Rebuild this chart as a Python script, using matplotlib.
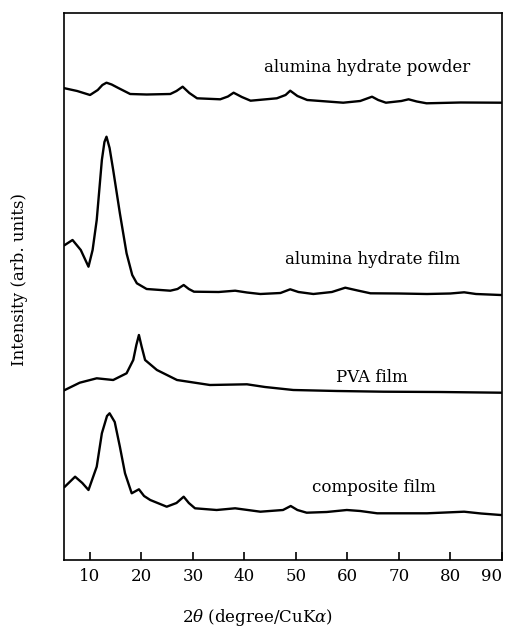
import matplotlib
matplotlib.use("Agg")
import matplotlib.pyplot as plt

plt.rcParams['font.family'] = ['DejaVu Serif']
plt.rcParams['mathtext.fontset'] = 'dejavuserif'

# 2theta (deg) and intensity (arb.) for each pattern (stacked offsets included)
powder_x = [5.1, 7.5, 10.0, 11.5, 12.4, 13.2, 14.2, 15.5, 17.8, 21, 25.6, 26.8, 28.0, 29.3, 30.8, 35.3, 36.8, 37.9, 39.5, 41.2,
            46.3, 48.0, 48.9, 50.3, 52.2, 59.2, 62.5, 64.8, 66.0, 67.5, 70.5, 71.9, 73.5, 75.4, 82, 89.8]
powder_y = [471.7, 469, 465, 470, 475, 477.3, 475.5, 472, 466, 465.5, 466, 469, 473.3, 467, 461.7, 460.7, 463.5, 467.3, 463, 459.3,
            461.7, 465, 469.3, 464, 460, 457.3, 459, 463.3, 460, 457.3, 459, 460.7, 458.5, 456.7, 457.5, 457.3]

film_x = [5.1, 6.6, 8.2, 9.7, 10.5, 11.3, 12.3, 12.8, 13.2, 13.8, 14.5, 15.8, 17.1, 18.2, 19.1, 21, 25.6, 27.0,
          28.2, 29.2, 30.2, 35, 38.2, 40.5, 43.1, 47, 48.9, 50.5, 53.4, 57, 59.6, 62, 64.5, 70, 75.5, 80, 82.7, 85, 89.8]
film_y = [315, 320, 310, 293.3, 310, 340, 400, 418, 423.3, 412, 390, 346.7, 306.7, 285, 276.7, 271, 269.3, 271,
          275, 271, 268.3, 268, 269.3, 267.5, 266, 267, 270.7, 268, 266, 268, 272.3, 269.5, 266.7, 266.5, 266, 266.5, 267.7, 266, 265]

pva_x = [5.1, 8.0, 11.3, 14.5, 17.1, 18.4, 19.0, 19.5, 20.0, 20.7, 23.0, 26.9, 33.3, 40.5, 44, 49.5, 58, 67, 78, 89.8]
pva_y = [170, 177.3, 181.7, 180, 186.7, 200, 215, 225, 214, 200, 190, 180, 175, 175.7, 173, 170, 169, 168.3, 168, 167.3]

comp_x = [5.1, 7.1, 8.5, 9.7, 11.3, 12.3, 13.3, 13.8, 14.8, 15.8, 16.8, 18.1, 19.5, 20.5, 21.7, 24.9, 26.8, 28.2,
          29.2, 30.4, 34.6, 38.2, 43.1, 47.5, 49.0, 50.3, 52.1, 56, 59.9, 62.5, 65.8, 75.5, 82.7, 86, 89.8]
comp_y = [73.3, 83.3, 77, 70, 93.3, 126.7, 144, 146.7, 138, 113.3, 86.7, 66.7, 70.7, 64, 60, 53.3, 57, 63.3,
          57, 51.7, 50, 51.7, 48.3, 50, 54, 50, 47.3, 48, 50, 49, 46.7, 46.7, 48.3, 46.5, 45]

labels = ["alumina hydrate powder", "alumina hydrate film", "PVA film", "composite film"]
label_x = [63.9, 65.0, 64.8, 65.2]
label_y = [492, 300, 183, 72]

xticks = [10, 20, 30, 40, 50, 60, 70, 80, 90]

fig = plt.figure(figsize=(5.1, 6.3), dpi=100)
ax = fig.add_axes([64.3 / 510, 1 - 560 / 630, (501.7 - 64.3) / 510, (560 - 13) / 630])

for xs, ys in [(powder_x, powder_y), (film_x, film_y), (pva_x, pva_y), (comp_x, comp_y)]:
    ax.plot(xs, ys, color='black', lw=1.7, solid_joinstyle='round')

for t, lx, ly in zip(labels, label_x, label_y):
    ax.text(lx, ly, t, ha='center', va='center', fontsize=12)

ax.set_xlim(5, 90)
ax.set_ylim(0, 547)
ax.set_xticks(xticks)
ax.set_xticklabels([str(v) for v in xticks], fontsize=12)
ax.get_xticklabels()[-1].set_horizontalalignment('right')
ax.set_yticks([])
ax.tick_params(axis='x', direction='in', length=6, width=1.2, pad=6, top=False)
for s in ax.spines.values():
    s.set_linewidth(1.2)

fig.text(257 / 510, 1 - 617 / 630, r"2$\theta$ (degree/CuK$\alpha$)", ha='center', va='center', fontsize=12)
fig.text(20 / 510, 1 - 279 / 630, "Intensity (arb. units)", ha='center', va='center', rotation=90, fontsize=12)

fig.savefig("out.png", dpi=100)
